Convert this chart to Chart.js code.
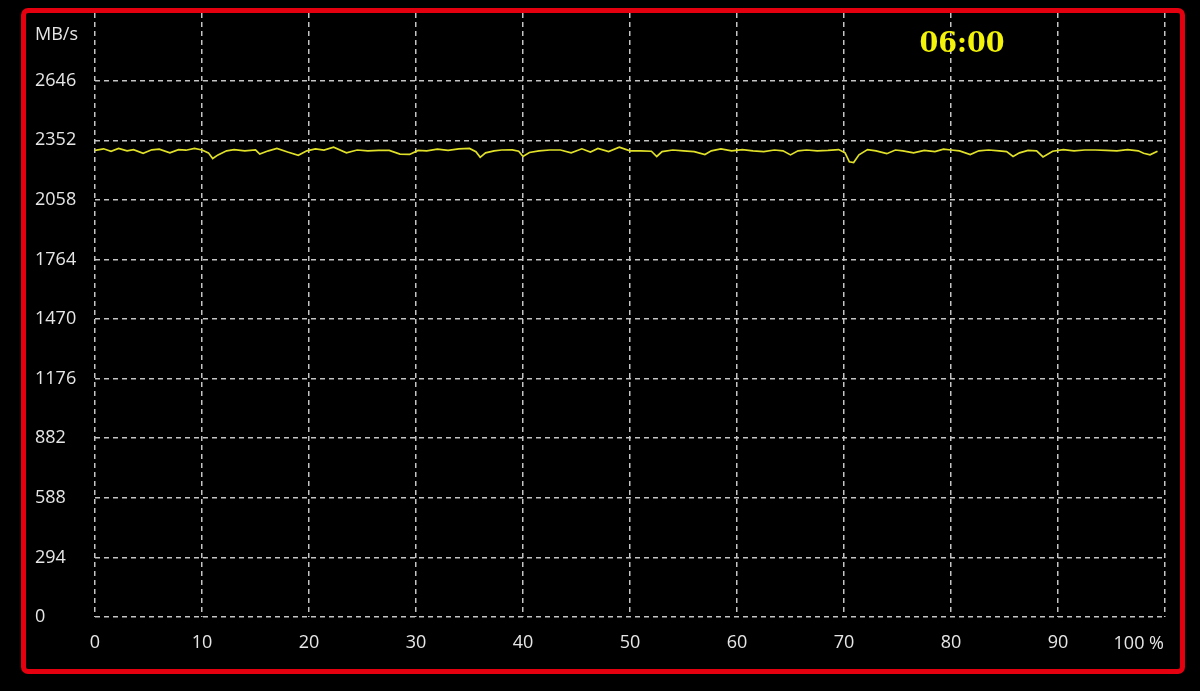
<!DOCTYPE html>
<html>
<head>
<meta charset="utf-8">
<script src="https://cdn.jsdelivr.net/npm/chart.js@4.4.1/dist/chart.umd.min.js"></script>
<style>
  html, body { margin: 0; padding: 0; background: #000; }
  #wrap { position: relative; width: 1200px; height: 691px; }
  #frame {
    position: absolute; left: 21px; top: 8px; width: 1164px; height: 666px;
    box-sizing: border-box; border: 5px solid #e4000f; border-radius: 7px;
    pointer-events: none;
  }
  canvas { position: absolute; left: 0; top: 0; }
</style>
</head>
<body>
<div id="wrap">
  <canvas id="speedChart" width="1200" height="691"></canvas>
  <div id="frame"></div>
</div>
<script>
// progresso do teste (%) e velocidade lida (MB/s)
const progress = [
  0, 0.8, 1.5, 2.2, 3, 3.6, 4.5, 5.3, 6, 7,
  7.8, 8.5, 9.3, 10, 10.6, 11, 11.5, 12.3, 13, 14,
  15, 15.4, 16.2, 17, 18, 19, 19.8, 20.6, 21.4, 22.3,
  23.5, 24.5, 25.5, 26.5, 27.5, 28.5, 29.4, 30.2, 31, 32,
  33, 34, 35, 35.6, 36, 36.5, 37.3, 38, 39, 39.6,
  40, 40.6, 41.5, 42.5, 43.5, 44.5, 45.5, 46.3, 47, 48,
  49, 50, 51, 52, 52.5, 53, 54, 55, 56, 57,
  57.6, 58.5, 59.5, 60.5, 61.5, 62.5, 63.5, 64.3, 65, 65.7,
  66.5, 67.5, 68.5, 69.5, 70.1, 70.5, 70.9, 71.4, 72.2, 73,
  74, 74.8, 75.5, 76.5, 77.5, 78.5, 79.3, 80, 80.8, 81.8,
  82.6, 83.5, 84.5, 85.2, 85.8, 86.4, 87.2, 88, 88.6, 89.5,
  90.5, 91.5, 92.5, 93.5, 94.5, 95.5, 96.5, 97.5, 98, 98.6,
  99.3
];
const speed = [
  2302, 2310, 2298, 2312, 2300, 2306, 2288, 2305, 2308, 2290,
  2306, 2303, 2312, 2304, 2290, 2262, 2280, 2300, 2306, 2300,
  2305, 2284, 2300, 2312, 2294, 2278, 2300, 2310, 2304, 2318,
  2290, 2304, 2300, 2302, 2302, 2284, 2282, 2302, 2300, 2308,
  2302, 2310, 2312, 2296, 2268, 2290, 2300, 2304, 2305, 2298,
  2272, 2292, 2300, 2304, 2304, 2290, 2310, 2294, 2312, 2296,
  2318, 2300, 2300, 2298, 2272, 2296, 2304, 2300, 2296, 2282,
  2300, 2310, 2300, 2306, 2300, 2296, 2304, 2300, 2280, 2300,
  2304, 2300, 2302, 2306, 2290, 2246, 2242, 2280, 2306, 2300,
  2286, 2304, 2300, 2290, 2302, 2296, 2308, 2304, 2300, 2282,
  2300, 2304, 2300, 2296, 2272, 2290, 2302, 2300, 2270, 2298,
  2306, 2300, 2304, 2304, 2302, 2300, 2306, 2300, 2288, 2280,
  2298
];
const yTicks = [0, 294, 588, 882, 1176, 1470, 1764, 2058, 2352, 2646];
const xTicks = [0, 10, 20, 30, 40, 50, 60, 70, 80, 90, 100];
const yUnit = 'MB/s';
const elapsed = '06:00';
const lastXLabel = '100 %';

const tickColor = '#e6e6e6';
const tickFont = { family: 'Open Sans', size: 18 };

// textos extra: unidade, tempo e rótulo "100 %"
const extras = {
  id: 'extras',
  afterDraw(chart) {
    const c = chart.ctx;
    const xs = chart.scales.x;
    c.save();
    c.fillStyle = tickColor;
    c.font = '18px "Open Sans"';
    c.textBaseline = 'middle';
    c.textAlign = 'left';
    c.fillText(yUnit, 35, 35);
    c.textAlign = 'right';
    c.fillText(lastXLabel, xs.getPixelForValue(100) - 1, 644);
    c.fillStyle = '#f2f20a';
    c.font = 'bold 27px "DejaVu Serif"';
    c.textAlign = 'center';
    c.fillText(elapsed, 962, 45);
    c.restore();
  }
};

const ctx = document.getElementById('speedChart').getContext('2d');
window.speedChart = new Chart(ctx, {
  type: 'line',
  data: {
    datasets: [{
      data: progress.map((p, i) => ({ x: p, y: speed[i] })),
      borderColor: '#e0e028',
      borderWidth: 1.7,
      pointRadius: 0,
      tension: 0,
      fill: false
    }]
  },
  options: {
    responsive: false,
    animation: false,
    layout: { padding: { left: 35, right: 35, top: 13, bottom: 0 } },
    plugins: { legend: { display: false }, tooltip: { enabled: false } },
    scales: {
      x: {
        type: 'linear',
        min: 0,
        max: 100,
        afterBuildTicks: s => { s.ticks = xTicks.map(v => ({ value: v })); },
        afterFit: s => { s.height = 74; },
        ticks: {
          color: tickColor,
          font: tickFont,
          padding: 15,
          maxRotation: 0,
          autoSkip: false,
          callback: v => (v === 100 ? '' : String(v))
        },
        grid: { color: '#c4c4c4', lineWidth: 1.5, drawTicks: false, tickLength: 0 },
        border: { display: false, dash: [5, 4] }
      },
      y: {
        min: 0,
        max: 2980,
        afterBuildTicks: s => { s.ticks = yTicks.map(v => ({ value: v })); },
        afterFit: s => { s.width = 60; },
        ticks: {
          color: tickColor,
          font: tickFont,
          crossAlign: 'far',
          padding: 0,
          autoSkip: false,
          callback: v => String(v)
        },
        grid: { color: '#c4c4c4', lineWidth: 1.5, drawTicks: false, tickLength: 0 },
        border: { display: false, dash: [5, 4] }
      }
    }
  },
  plugins: [extras]
});
</script>
</body>
</html>
